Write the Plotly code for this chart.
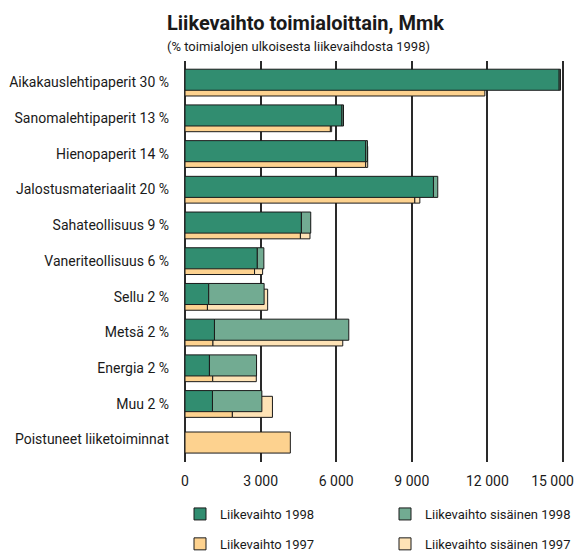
import plotly.graph_objects as go

categories = ["Aikakauslehtipaperit 30 %", "Sanomalehtipaperit 13 %", "Hienopaperit 14 %",
              "Jalostusmateriaalit 20 %", "Sahateollisuus 9 %", "Vaneriteollisuus 6 %",
              "Sellu 2 %", "Metsä 2 %", "Energia 2 %", "Muu 2 %", "Poistuneet liiketoiminnat"]
ext_1998 = [14850, 6230, 7170, 9860, 4620, 2870, 940, 1170, 970, 1090, None]
int_1998 = [50, 60, 70, 170, 370, 260, 2200, 5330, 1870, 1960, None]
ext_1997 = [11900, 5770, 7170, 9120, 4580, 2760, 890, 1110, 1100, 1880, 4180]
int_1997 = [None, 50, 80, 200, 380, 320, 2390, 5150, 1730, 1590, None]

tick_vals = [0, 3000, 6000, 9000, 12000, 15000]
tick_text = ["0", "3 000", "6 000", "9 000", "12 000", "15 000\u00a0\u00a0\u00a0\u00a0\u00a0\u00a0"]

FONT = "Roboto"
C_EXT98 = "#318d70"
C_INT98 = "#72ab92"
C_EXT97 = "#fdd28f"
C_INT97 = "#fee3b6"
LINE = dict(color="#1a1a1a", width=1)

W = 0.59
OFF98 = -0.37
OFF97 = -0.21

# page body has an 8px margin; figure is sized to fill the rest of the window
PAGE_OFF = 8
FIG_W, FIG_H = 584 - PAGE_OFF, 555 - PAGE_OFF

fig = go.Figure()

# 1997 bars behind
fig.add_trace(go.Bar(y=categories, x=ext_1997, orientation="h", name="Liikevaihto 1997",
                     marker=dict(color=C_EXT97, line=LINE), width=W, offset=OFF97,
                     legend="legend", legendgroup="b", legendrank=2))
fig.add_trace(go.Bar(y=categories, x=int_1997, base=[e if e is not None else 0 for e in ext_1997],
                     orientation="h", name="Liikevaihto sisäinen 1997",
                     marker=dict(color=C_INT97, line=LINE), width=W, offset=OFF97,
                     legend="legend2", legendgroup="d", legendrank=2))
# 1998 bars in front
fig.add_trace(go.Bar(y=categories, x=ext_1998, orientation="h", name="Liikevaihto 1998",
                     marker=dict(color=C_EXT98, line=LINE), width=W, offset=OFF98,
                     legend="legend", legendgroup="a", legendrank=1))
fig.add_trace(go.Bar(y=categories, x=int_1998, base=[e if e is not None else 0 for e in ext_1998],
                     orientation="h", name="Liikevaihto sisäinen 1998",
                     marker=dict(color=C_INT98, line=LINE), width=W, offset=OFF98,
                     legend="legend2", legendgroup="c", legendrank=1))

fig.update_layout(
    width=FIG_W, height=FIG_H,
    margin=dict(l=185 - PAGE_OFF, r=19, t=61 - PAGE_OFF, b=93, autoexpand=False),
    barmode="overlay",
    plot_bgcolor="white", paper_bgcolor="white",
    font=dict(family=FONT, size=14, color="#1a1a1a"),
    xaxis=dict(range=[0, 15080], tickvals=tick_vals, ticktext=tick_text,
               showgrid=True, gridcolor="#2a2a2a", gridwidth=1.5,
               zeroline=True, zerolinecolor="#2a2a2a", zerolinewidth=1.5,
               showline=False, ticks="", ticklabelstandoff=9, automargin=False,
               ticklabeloverflow="allow", tickfont=dict(family=FONT, size=14)),
    yaxis=dict(type="category", categoryorder="array", categoryarray=categories,
               range=[10.63, -0.60], showgrid=False, zeroline=False, ticks="",
               ticklabelstandoff=15, automargin=False, tickfont=dict(family=FONT, size=14)),
    legend=dict(xref="container", yref="container", x=(180 - PAGE_OFF) / FIG_W, xanchor="left",
                y=1 - (499 - PAGE_OFF) / FIG_H, yanchor="top",
                traceorder="grouped", tracegroupgap=10, bgcolor="rgba(0,0,0,0)",
                font=dict(family=FONT, size=13)),
    legend2=dict(xref="container", yref="container", x=(385 - PAGE_OFF) / FIG_W, xanchor="left",
                 y=1 - (499 - PAGE_OFF) / FIG_H, yanchor="top",
                 traceorder="grouped", tracegroupgap=10, bgcolor="rgba(0,0,0,0)",
                 font=dict(family=FONT, size=13)),
    annotations=[
        dict(text="<b>Liikevaihto toimialoittain, Mmk</b>", xref="paper", yref="paper",
             x=(165 - 185) / 379.0, y=(462 - 23) / 401.0, xanchor="left", yanchor="middle",
             showarrow=False, font=dict(family=FONT, size=20, weight=900, color="#1a1a1a")),
        dict(text="(% toimialojen ulkoisesta liikevaihdosta 1998)", xref="paper", yref="paper",
             x=(165 - 185) / 379.0, y=(462 - 47) / 401.0, xanchor="left", yanchor="middle",
             showarrow=False, font=dict(family=FONT, size=13, color="#1a1a1a")),
    ],
)

fig.write_html("out.html")
